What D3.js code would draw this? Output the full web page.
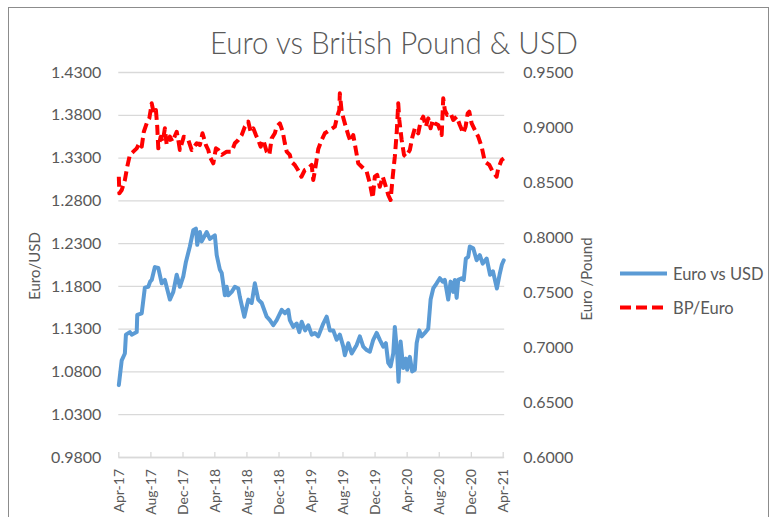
<!DOCTYPE html>
<html>
<head>
<meta charset="utf-8">
<script src="https://cdn.jsdelivr.net/npm/d3@7"></script>
<style>
  html, body { margin: 0; padding: 0; background: #ffffff; }
  svg { display: block; }
  text { font-family: Lato, "Open Sans", sans-serif; fill: #595959; }
</style>
</head>
<body>
<svg id="chart" width="773" height="517"></svg>
<script>
// Euro vs USD (left axis), weekly-ish closes
const usdDates = [
  "2017-04-03","2017-04-14","2017-04-26","2017-04-30","2017-05-15","2017-05-22","2017-06-10","2017-06-12","2017-06-29","2017-07-11",
  "2017-07-24","2017-07-31","2017-08-06","2017-08-18","2017-08-31","2017-09-13","2017-09-25","2017-10-14","2017-10-27","2017-11-09",
  "2017-11-21","2017-12-04","2017-12-14","2017-12-29","2018-01-11","2018-01-21","2018-01-26","2018-02-05","2018-02-12","2018-03-03",
  "2018-03-15","2018-04-03","2018-04-10","2018-04-22","2018-04-29","2018-05-11","2018-05-18","2018-05-24","2018-06-06","2018-06-18",
  "2018-07-01","2018-07-07","2018-07-24","2018-08-08","2018-08-21","2018-09-02","2018-09-15","2018-09-28","2018-10-17","2018-10-29",
  "2018-11-11","2018-11-24","2018-12-13","2018-12-25","2019-01-07","2019-01-13","2019-01-26","2019-02-08","2019-02-18","2019-02-27",
  "2019-03-12","2019-03-24","2019-04-06","2019-04-18","2019-05-01","2019-05-20","2019-06-02","2019-06-14","2019-06-27","2019-07-10",
  "2019-07-22","2019-08-04","2019-08-10","2019-08-23","2019-09-05","2019-09-24","2019-10-06","2019-10-19","2019-11-01","2019-11-13",
  "2019-11-26","2019-12-09","2019-12-21","2020-01-03","2020-01-13","2020-01-22","2020-01-31","2020-02-10","2020-02-16","2020-02-25",
  "2020-03-01","2020-03-09","2020-03-19","2020-03-29","2020-04-03","2020-04-13","2020-04-22","2020-05-02","2020-05-09","2020-05-19",
  "2020-05-28","2020-06-09","2020-06-22","2020-07-01","2020-07-11","2020-07-24","2020-08-05","2020-08-16","2020-08-24","2020-09-06",
  "2020-09-15","2020-09-25","2020-10-01","2020-10-08","2020-10-14","2020-10-27","2020-11-04","2020-11-12","2020-11-21","2020-11-27",
  "2020-12-10","2020-12-23","2021-01-04","2021-01-15","2021-01-30","2021-02-12","2021-02-23","2021-03-10","2021-03-20","2021-03-29",
  "2021-04-05"
];
const usdValues = [
  1.064,1.093,1.101,1.123,1.126,1.123,1.126,1.146,1.148,1.178,
  1.179,1.185,1.187,1.202,1.201,1.183,1.187,1.164,1.173,1.193,
  1.179,1.191,1.208,1.226,1.245,1.247,1.228,1.243,1.232,1.243,
  1.235,1.239,1.216,1.199,1.195,1.169,1.179,1.169,1.173,1.179,
  1.177,1.167,1.144,1.164,1.160,1.183,1.164,1.160,1.144,1.140,
  1.134,1.140,1.152,1.148,1.152,1.140,1.132,1.136,1.126,1.138,
  1.128,1.134,1.123,1.125,1.121,1.136,1.144,1.128,1.128,1.117,
  1.123,1.109,1.099,1.113,1.101,1.111,1.121,1.109,1.105,1.103,
  1.117,1.125,1.117,1.109,1.113,1.090,1.086,1.101,1.132,1.101,
  1.068,1.115,1.084,1.095,1.082,1.097,1.080,1.082,1.113,1.128,
  1.121,1.125,1.130,1.164,1.177,1.183,1.189,1.185,1.187,1.164,
  1.185,1.173,1.187,1.166,1.187,1.189,1.187,1.212,1.214,1.226,
  1.224,1.210,1.216,1.206,1.212,1.193,1.197,1.177,1.193,1.205,
  1.210
];

// British Pound per Euro (right axis)
const gbpDates = [
  "2017-04-03","2017-04-05","2017-04-14","2017-04-26","2017-05-05","2017-05-15","2017-05-28","2017-06-10","2017-06-20","2017-06-29",
  "2017-07-07","2017-07-18","2017-07-28","2017-08-06","2017-08-14","2017-08-22","2017-08-27","2017-08-31","2017-09-09","2017-09-17",
  "2017-09-25","2017-10-02","2017-10-14","2017-10-24","2017-11-09","2017-11-15","2017-11-21","2017-12-06","2017-12-23","2018-01-05",
  "2018-01-24","2018-02-05","2018-02-15","2018-02-28","2018-03-09","2018-03-15","2018-03-28","2018-04-07","2018-04-16","2018-04-29",
  "2018-05-18","2018-06-06","2018-06-18","2018-07-01","2018-07-14","2018-07-26","2018-08-08","2018-08-17","2018-08-27","2018-09-06",
  "2018-09-15","2018-09-24","2018-10-04","2018-10-17","2018-10-27","2018-11-05","2018-11-17","2018-11-24","2018-12-06","2018-12-17",
  "2018-12-25","2019-01-01","2019-01-13","2019-01-19","2019-02-01","2019-02-13","2019-02-26","2019-03-11","2019-03-24","2019-04-06",
  "2019-04-12","2019-04-18","2019-05-01","2019-05-14","2019-05-26","2019-06-14","2019-07-03","2019-07-12","2019-07-20","2019-07-22",
  "2019-07-29","2019-08-10","2019-08-23","2019-09-01","2019-09-11","2019-09-21","2019-09-30","2019-10-13","2019-11-01","2019-11-13",
  "2019-11-24","2019-12-02","2019-12-11","2019-12-21","2020-01-01","2020-01-13","2020-01-22","2020-01-31","2020-02-08","2020-02-16",
  "2020-02-23","2020-02-29","2020-03-04","2020-03-13","2020-03-22","2020-03-29","2020-04-13","2020-04-23","2020-05-02","2020-05-15",
  "2020-05-24","2020-06-03","2020-06-13","2020-06-22","2020-07-01","2020-07-09","2020-07-17","2020-07-30","2020-08-12","2020-08-18",
  "2020-08-24","2020-09-02","2020-09-15","2020-09-25","2020-10-08","2020-10-20","2020-11-02","2020-11-11","2020-11-19","2020-11-25",
  "2020-12-04","2020-12-16","2020-12-29","2021-01-11","2021-01-23","2021-02-09","2021-02-22","2021-03-09","2021-03-15","2021-03-28",
  "2021-04-05"
];
const gbpValues = [
  0.8548,0.8397,0.8427,0.8518,0.8639,0.8746,0.8776,0.8806,0.8852,0.8821,
  0.8957,0.9033,0.9079,0.9215,0.9124,0.9154,0.9003,0.8806,0.8912,0.8867,
  0.8988,0.8836,0.8912,0.8867,0.8957,0.8882,0.8791,0.8912,0.8882,0.8791,
  0.8852,0.8836,0.8943,0.8836,0.8791,0.8730,0.8670,0.8806,0.8791,0.8746,
  0.8776,0.8776,0.8852,0.8882,0.8927,0.9003,0.9048,0.8957,0.8988,0.8927,
  0.8882,0.8821,0.8882,0.8776,0.8746,0.8897,0.8943,0.9003,0.9033,0.8957,
  0.8852,0.8776,0.8746,0.8685,0.8655,0.8609,0.8548,0.8609,0.8624,0.8655,
  0.8518,0.8600,0.8800,0.8882,0.8943,0.8973,0.9003,0.9094,0.9154,0.9306,
  0.9139,0.9033,0.8927,0.8867,0.8927,0.8791,0.8670,0.8639,0.8594,0.8488,
  0.8352,0.8548,0.8564,0.8457,0.8548,0.8457,0.8382,0.8336,0.8548,0.8730,
  0.8943,0.9215,0.9064,0.8882,0.8746,0.8730,0.8791,0.8912,0.8988,0.8943,
  0.9048,0.9094,0.9003,0.9079,0.8988,0.9064,0.9033,0.9018,0.8927,0.9261,
  0.9154,0.9109,0.9124,0.9064,0.9094,0.9018,0.8943,0.9003,0.9124,0.9139,
  0.9033,0.8973,0.8912,0.8821,0.8685,0.8655,0.8594,0.8548,0.8624,0.8700,
  0.8715
];

// Axis tick values
const leftTicks = [0.98, 1.03, 1.08, 1.13, 1.18, 1.23, 1.28, 1.33, 1.38, 1.43];
const rightTicks = [0.60, 0.65, 0.70, 0.75, 0.80, 0.85, 0.90, 0.95];
const xTickDates = ["2017-04-01","2017-08-01","2017-12-01","2018-04-01","2018-08-01","2018-12-01",
                    "2019-04-01","2019-08-01","2019-12-01","2020-04-01","2020-08-01","2020-12-01","2021-04-01"];

const seriesNames = ["Euro vs USD", "BP/Euro"];
const chartTitle = "Euro vs British Pound & USD";
const leftTitle = "Euro/USD";
const rightTitle = "Euro /Pound";

const parse = d3.timeParse("%Y-%m-%d");
const usd = usdDates.map((d, i) => ({ date: parse(d), value: usdValues[i] }));
const gbp = gbpDates.map((d, i) => ({ date: parse(d), value: gbpValues[i] }));

const svg = d3.select("#chart");

// chart frame
svg.append("rect")
  .attr("x", 8.5).attr("y", 7.5)
  .attr("width", 760).attr("height", 530)
  .attr("fill", "#ffffff").attr("stroke", "#8c8c8c").attr("stroke-width", 1);

const plot = { left: 118.3, right: 502.7, top: 72, bottom: 457 };

const x = d3.scaleTime()
  .domain([parse("2017-04-01"), parse("2021-04-01")])
  .range([plot.left, plot.right]);
const yL = d3.scaleLinear().domain([0.98, 1.43]).range([plot.bottom, plot.top]);
const yR = d3.scaleLinear().domain([0.60, 0.95]).range([plot.bottom, plot.top]);

// title
svg.append("text")
  .attr("x", 394).attr("y", 54)
  .attr("text-anchor", "middle")
  .attr("textLength", 368)
  .attr("lengthAdjust", "spacingAndGlyphs")
  .style("font-size", "31px")
  .style("font-weight", 300)
  .text(chartTitle);

// left axis with gridlines
const gL = svg.append("g")
  .attr("transform", `translate(${plot.left},0)`)
  .call(d3.axisLeft(yL).tickValues(leftTicks)
    .tickSize(-(plot.right + 1.5 - plot.left)).tickPadding(17)
    .tickFormat(d3.format(".4f")));
gL.select(".domain").remove();
gL.selectAll(".tick line").attr("stroke", "#d9d9d9").attr("stroke-width", 1.3);
gL.selectAll(".tick text").style("font-size", "16px").attr("fill", "#595959");

// right axis labels
const gR = svg.append("g")
  .attr("transform", `translate(${plot.right + 1.5},0)`)
  .call(d3.axisRight(yR).tickValues(rightTicks).tickSize(0).tickPadding(19)
    .tickFormat(d3.format(".4f")));
gR.select(".domain").remove();
gR.selectAll(".tick text").style("font-size", "16px").attr("fill", "#595959");

// bottom date axis
const gX = svg.append("g")
  .attr("transform", `translate(0,${plot.bottom})`)
  .call(d3.axisBottom(x).tickValues(xTickDates.map(parse))
    .tickSizeInner(-5).tickSizeOuter(0).tickPadding(0)
    .tickFormat(d3.timeFormat("%b-%y")));
gX.select(".domain").attr("stroke", "#d9d9d9").attr("stroke-width", 1.3);
gX.selectAll(".tick line").attr("stroke", "#d9d9d9").attr("stroke-width", 1.3);
gX.selectAll(".tick text")
  .style("font-size", "14px")
  .attr("fill", "#595959")
  .attr("transform", "rotate(-90)")
  .attr("text-anchor", "end")
  .attr("x", -12).attr("y", 0).attr("dy", "0.35em");

// axis titles
svg.append("text")
  .attr("transform", "translate(40,266) rotate(-90)")
  .attr("text-anchor", "middle")
  .style("font-size", "15px")
  .text(leftTitle);
svg.append("text")
  .attr("transform", "translate(592,279) rotate(-90)")
  .attr("text-anchor", "middle")
  .style("font-size", "15px")
  .text(rightTitle);

// series lines
const lineL = d3.line().x(d => x(d.date)).y(d => yL(d.value));
const lineR = d3.line().x(d => x(d.date)).y(d => yR(d.value));

svg.append("path")
  .datum(usd)
  .attr("d", lineL)
  .attr("fill", "none")
  .attr("stroke", "#5b9bd5")
  .attr("stroke-width", 4)
  .attr("stroke-linejoin", "round")
  .attr("stroke-linecap", "round");

svg.append("path")
  .datum(gbp)
  .attr("d", lineR)
  .attr("fill", "none")
  .attr("stroke", "#ff0000")
  .attr("stroke-width", 4)
  .attr("stroke-dasharray", "10,5")
  .attr("stroke-linejoin", "round");

// legend
const legend = svg.append("g");
const legendItems = [
  { name: seriesNames[0], color: "#5b9bd5", dash: null, y: 273.5 },
  { name: seriesNames[1], color: "#ff0000", dash: "11,5", y: 307.5 }
];
legendItems.forEach(item => {
  legend.append("line")
    .attr("x1", 620).attr("x2", 667)
    .attr("y1", item.y).attr("y2", item.y)
    .attr("stroke", item.color)
    .attr("stroke-width", 4)
    .attr("stroke-dasharray", item.dash);
  legend.append("text")
    .attr("x", 673).attr("y", item.y + 6)
    .style("font-size", "16.5px")
    .text(item.name);
});
</script>
</body>
</html>
